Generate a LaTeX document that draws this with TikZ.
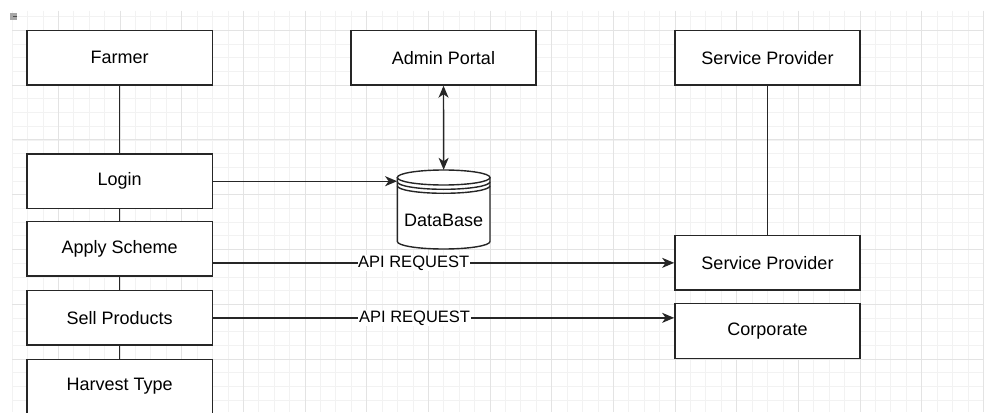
\documentclass[tikz,border=0pt]{standalone}
\usepackage{fontspec}
\setmainfont{Liberation Sans}
\usetikzlibrary{arrows.meta}
\tikzset{
  minorgrid/.style={draw=black!5, line width=0.8pt},
  majorgrid/.style={draw=black!11, line width=0.8pt},
  box/.style={draw=black!85, line width=1.4pt, fill=white, minimum width=185.3pt, minimum height=54.5pt, inner sep=0pt, font=\fontsize{18}{21}\selectfont},
  lifeline/.style={draw=black!85, line width=1.4pt},
  arr/.style={draw=black!85, line width=1.4pt, -{Stealth[length=12pt,width=10pt,inset=3.5pt]}},
  arrboth/.style={draw=black!85, line width=1.4pt, {Stealth[length=12pt,width=10pt,inset=3.5pt]}-{Stealth[length=12pt,width=10pt,inset=3.5pt]}},
  lbl/.style={fill=white, inner sep=0.6pt, font=\fontsize{16.5}{19}\selectfont},
  cylframe/.style={draw=none, minimum width=92.7pt, minimum height=79pt, inner sep=0pt},
  cylline/.style={draw=black!85, line width=1.4pt}
}
\begin{document}
\begin{tikzpicture}[x=1pt,y=-1pt]
\useasboundingbox (0,0) rectangle (984,412);
\clip (0,0) rectangle (984,412);
\fill[white] (0,0) rectangle (984,412);
% grid
\foreach \i in {0,...,63} \draw[minorgrid] ({12.08+\i*15.4167},11) -- ++(0,401);
\foreach \j in {0,...,28} \draw[minorgrid] (12,{16.6+\j*13.7}) -- (984,{16.6+\j*13.7});
\foreach \i in {0,...,15} \draw[majorgrid] ({58.33+\i*61.667},11) -- ++(0,401);
\foreach \j in {0,...,6} \draw[majorgrid] (12,{30.3+\j*54.78}) -- (984,{30.3+\j*54.78});
% small ui mark
\fill[black!35] (10,13.5) rectangle (16.5,20);
\fill[black!70] (13,16.2) rectangle (16.5,17.2);
% nodes
\node[box] (farmer) at (119.7,57.75) {Farmer};
\node[box] (admin) at (443.5,57.75) {Admin Portal};
\node[box] (sp1) at (767.5,57.75) {Service Provider};
\node[box] (login) at (119.7,181.2) {Login};
\node[box] (apply) at (119.7,248.85) {Apply Scheme};
\node[box] (sell) at (119.7,317.85) {Sell Products};
\node[box] (harvest) at (119.7,386.5) {Harvest Type};
\node[box] (sp2) at (767.5,262.85) {Service Provider};
\node[box] (corp) at (767.5,331) {Corporate};
% database cylinder
\node[cylframe] (db) at (443.65,209.5) {};
\fill[white] (397.3,177.5) -- (397.3,241.5) arc[start angle=180, end angle=360, x radius=46.35pt, y radius=7.5pt] -- (490,177.5) -- cycle;
\fill[white] (443.65,177.5) ellipse [x radius=46.35pt, y radius=7.5pt];
\draw[cylline] (397.3,177.5) -- (397.3,241.5) arc[start angle=180, end angle=360, x radius=46.35pt, y radius=7.5pt] -- (490,177.5);
\draw[cylline] (443.65,177.5) ellipse [x radius=46.35pt, y radius=7.5pt];
\draw[cylline] (397.3,181.8) arc[start angle=180, end angle=360, x radius=46.35pt, y radius=7.5pt];
\draw[cylline] (397.3,185.8) arc[start angle=180, end angle=360, x radius=46.35pt, y radius=7.5pt];
\node[font=\fontsize{18}{21}\selectfont, inner sep=0pt] (dblabel) at (443.65,220.7) {DataBase};
% lifelines
\draw[lifeline] (farmer.south) -- (login.north);
\draw[lifeline] (login.south) -- (apply.north);
\draw[lifeline] (apply.south) -- (sell.north);
\draw[lifeline] (sell.south) -- (harvest.north);
\draw[lifeline] (sp1.south) -- (sp2.north);
% connectors
\draw[arr] (login.east) -- (login.east -| db.west);
\draw[arrboth] (admin.south) -- (db.north);
\draw[arr] (apply.east |- sp2.west) -- (sp2.west) node[lbl, pos=0.435] {API REQUEST};
\draw[arr] (sell.east) -- (sell.east -| corp.west) node[lbl, pos=0.437] {API REQUEST};
\end{tikzpicture}
\end{document}
